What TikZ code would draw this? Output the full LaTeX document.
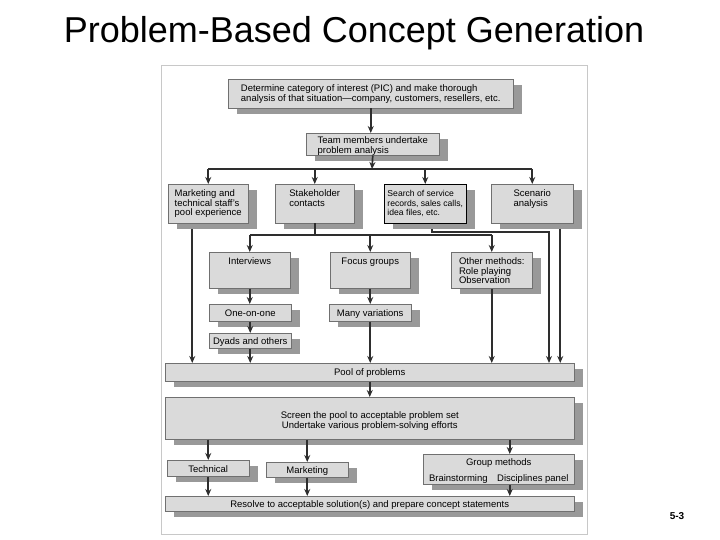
\documentclass[tikz,border=0pt]{standalone}
\usepackage{fontspec}
\setmainfont{Liberation Sans}
\usetikzlibrary{arrows.meta,shadows}
\definecolor{boxfill}{HTML}{DADADA}
\definecolor{boxline}{HTML}{707070}
\definecolor{shade}{HTML}{999999}
\definecolor{linegray}{HTML}{2E2E2E}
\definecolor{framegray}{HTML}{C8C8C8}
\newcommand{\lrows}[1]{\begin{tabular}[t]{@{}l@{}}#1\end{tabular}}
\newcommand{\crows}[1]{\begin{tabular}[t]{@{}c@{}}#1\end{tabular}}
\begin{document}
\begin{tikzpicture}[x=1pt, y=-1pt,
  box/.style={draw=boxline, line width=0.5pt, fill=boxfill, anchor=north west, inner sep=3pt,
    text height=9pt, font=\fontsize{9.5}{9.8}\selectfont,
    drop shadow={shadow xshift=9pt, shadow yshift=-6pt, fill=shade, opacity=1}},
  wire/.style={draw=linegray, line width=1.7pt},
  flow/.style={wire, -{Stealth[length=7pt, width=6pt]}}]
\useasboundingbox (0,0) rectangle (720,540);
\draw[framegray, line width=0.8pt] (161,65) rectangle (587,534);

\node[font=\fontsize{36}{40}\selectfont, anchor=base] (title) at (354,43) {Problem-Based Concept Generation};

\node[box, minimum width=285pt, text depth=14pt] (pic) at (228,79)
{\lrows{Determine category of interest (PIC) and make thorough\\analysis of that situation---company, customers, resellers, etc.}};
\node[box, minimum width=133pt, text height=7pt, text depth=9pt] (team) at (306,133)
{\lrows{Team members undertake\\problem analysis}};

\node[box, minimum width=80pt, text depth=24pt] (mkt) at (168,184)
{\lrows{Marketing and\\technical staff's\\pool experience}};
\node[box, minimum width=79pt, text depth=24pt] (stake) at (275,184)
{\lrows{Stakeholder\\contacts}};
\node[box, draw=black, minimum width=82pt, text depth=24pt, font=\fontsize{8.6}{9.8}\selectfont] (search) at (384,184)
{\lrows{Search of service\\records, sales calls,\\idea files, etc.}};
\node[box, minimum width=82pt, text depth=24pt] (scen) at (491,184)
{\lrows{Scenario\\analysis}};

\node[box, minimum width=81pt, text depth=21pt] (intv) at (209,252) {Interviews};
\node[box, minimum width=80pt, text depth=21pt] (focus) at (330,252) {Focus groups};
\node[box, minimum width=81pt, text depth=21pt] (other) at (451,252)
{\lrows{Other methods:\\Role playing\\Observation}};

\node[box, minimum width=82pt, text depth=2pt] (one) at (209,304) {One-on-one};
\node[box, minimum width=82pt, text height=8pt, text depth=1pt] (dyads) at (209,333) {Dyads and others};
\node[box, minimum width=82pt, text depth=2pt] (many) at (329,304) {Many variations};

\node[box, minimum width=409pt, text depth=3pt] (pool) at (165,363) {Pool of problems};
\node[box, minimum width=409pt, text height=18pt, text depth=18pt] (screen) at (165,397)
{\crows{Screen the pool to acceptable problem set\\Undertake various problem-solving efforts}};

\node[box, minimum width=82pt, text depth=1pt] (tech) at (167,460) {Technical};
\node[box, minimum width=82pt, text height=8pt, text depth=1pt] (mktg) at (266,462) {Marketing};
\node[box, minimum width=151pt, text height=8pt, text depth=16pt] (group) at (423,454)
{\crows{Group methods\\[6pt]Brainstorming\quad Disciplines panel}};
\node[box, minimum width=409pt, text height=8pt, text depth=1pt] (resolve) at (165,496)
{Resolve to acceptable solution(s) and prepare concept statements};

\node[font=\bfseries\fontsize{10}{12}\selectfont] (page) at (677,516) {5-3};

\coordinate (split) at (372,169);
\coordinate (split2) at (312,235);
\coordinate (sbend) at (549,232);
\coordinate (mx) at ([xshift=-16pt, yshift=-6pt]mkt.south);
\coordinate (sx) at ([xshift=7pt, yshift=-6pt]search.south);
\coordinate (cx) at ([xshift=28pt, yshift=-6pt]scen.south);
\coordinate (gx) at ([xshift=11pt]group.north);
\coordinate (gy) at ([xshift=11pt]group.south);

\draw[flow] (pic.south) -- (pic.south |- team.north);
\draw[flow] (team.south) -- (split);
\draw[wire] (split -| mkt.north) -- (split -| scen.north);
\foreach \n in {mkt,stake,search,scen}
  \draw[flow] (split -| \n.north) -- (\n.north);

\draw[wire] (stake.south) -- (stake.south |- split2);
\draw[wire] (split2 -| intv.north) -- (split2 -| other.north);
\foreach \n in {intv,focus,other}
  \draw[flow] (split2 -| \n.north) -- (\n.north);

\draw[flow] (mx) -- (mx |- pool.north);
\draw[flow] (sx) |- (sbend) -- (sbend |- pool.north);
\draw[flow] (cx) -- (cx |- pool.north);

\draw[flow] (intv.south) -- (intv.south |- one.north);
\draw[flow] (one.south) -- (one.south |- dyads.north);
\draw[flow] (dyads.south) -- (dyads.south |- pool.north);
\draw[flow] (focus.south) -- (focus.south |- many.north);
\draw[flow] (many.south) -- (many.south |- pool.north);
\draw[flow] (other.south) -- (other.south |- pool.north);

\draw[flow] (pool.south) -- (pool.south |- screen.north);
\draw[flow] (tech.north |- screen.south) -- (tech.north);
\draw[flow] (mktg.north |- screen.south) -- (mktg.north);
\draw[flow] (gx |- screen.south) -- (gx);
\draw[flow] (tech.south) -- (tech.south |- resolve.north);
\draw[flow] (mktg.south) -- (mktg.south |- resolve.north);
\draw[flow] (gy) -- (gy |- resolve.north);
\end{tikzpicture}
\end{document}
